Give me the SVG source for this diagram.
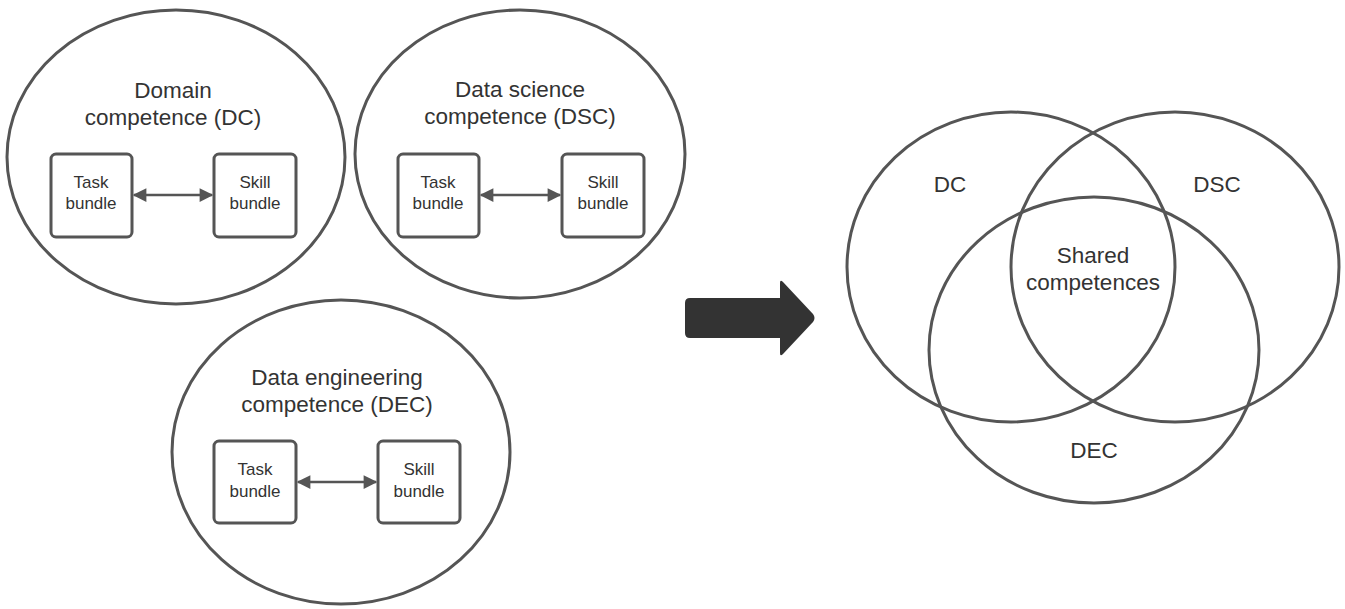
<svg xmlns="http://www.w3.org/2000/svg" width="1345" height="609" viewBox="0 0 1345 609">
<defs>
<style>
.ring{fill:none;stroke:#555;stroke-width:3}
.box{fill:#fff;stroke:#555;stroke-width:3}
.t{font-family:"Liberation Sans",Arial,sans-serif;fill:#333;text-anchor:middle}
.title{font-size:22.5px}
.small{font-size:17px}
.venn{font-size:22.5px}
.conn{stroke:#555;stroke-width:2.5;fill:none;marker-start:url(#ah);marker-end:url(#ah)}
</style>
<marker id="ah" viewBox="0 0 10 10" refX="9" refY="5" markerWidth="7" markerHeight="5.5" markerUnits="strokeWidth" orient="auto-start-reverse">
<path d="M0,0 L10,5 L0,10 Z" fill="#555"/>
</marker>
</defs>
<rect width="1345" height="609" fill="#fff"/>

<g id="dc">
<ellipse class="ring" cx="176" cy="157" rx="169" ry="147"/>
<text class="t title" x="173" y="98">Domain</text>
<text class="t title" x="173" y="125">competence (DC)</text>
<rect id="dc-task" class="box" x="51" y="154" width="81" height="83" rx="5"/>
<text class="t small" x="91" y="188">Task</text>
<text class="t small" x="91" y="209">bundle</text>
<rect id="dc-skill" class="box" x="214" y="154" width="82" height="83" rx="5"/>
<text class="t small" x="255" y="188">Skill</text>
<text class="t small" x="255" y="209">bundle</text>
</g>

<g id="dsc">
<ellipse class="ring" cx="520" cy="154" rx="165" ry="144"/>
<text class="t title" x="520" y="97">Data science</text>
<text class="t title" x="520" y="124">competence (DSC)</text>
<rect id="dsc-task" class="box" x="398" y="154" width="81" height="83" rx="5"/>
<text class="t small" x="438" y="188">Task</text>
<text class="t small" x="438" y="209">bundle</text>
<rect id="dsc-skill" class="box" x="562" y="154" width="82" height="83" rx="5"/>
<text class="t small" x="603" y="188">Skill</text>
<text class="t small" x="603" y="209">bundle</text>
</g>

<g id="dec">
<ellipse class="ring" cx="341" cy="452" rx="169" ry="152"/>
<text class="t title" x="337" y="385">Data engineering</text>
<text class="t title" x="337" y="412">competence (DEC)</text>
<rect id="dec-task" class="box" x="214" y="441" width="82" height="82" rx="5"/>
<text class="t small" x="255" y="475">Task</text>
<text class="t small" x="255" y="497">bundle</text>
<rect id="dec-skill" class="box" x="378" y="441" width="82" height="82" rx="5"/>
<text class="t small" x="419" y="475">Skill</text>
<text class="t small" x="419" y="497">bundle</text>
</g>

<g id="connectors">
<line class="conn" x1="134" y1="195" x2="212" y2="195"/>
<line class="conn" x1="481" y1="195" x2="560" y2="195"/>
<line class="conn" x1="298" y1="482" x2="376" y2="482"/>
</g>

<g id="big-arrow">
<path d="M690,298 L780,298 L780,283 Q780,279 783,282 L813,314 Q816,318 813,322 L783,354 Q780,357 780,353 L780,338 L690,338 Q685,338 685,333 L685,303 Q685,298 690,298 Z" fill="#333"/>
</g>

<g id="venn">
<ellipse class="ring" cx="1011" cy="267" rx="164" ry="155"/>
<ellipse class="ring" cx="1175" cy="267" rx="164" ry="155"/>
<ellipse class="ring" cx="1094" cy="350" rx="165" ry="153"/>
<text class="t venn" x="950" y="192">DC</text>
<text class="t venn" x="1217" y="192">DSC</text>
<text class="t venn" x="1093" y="263">Shared</text>
<text class="t venn" x="1093" y="290">competences</text>
<text class="t venn" x="1094" y="458">DEC</text>
</g>
</svg>
